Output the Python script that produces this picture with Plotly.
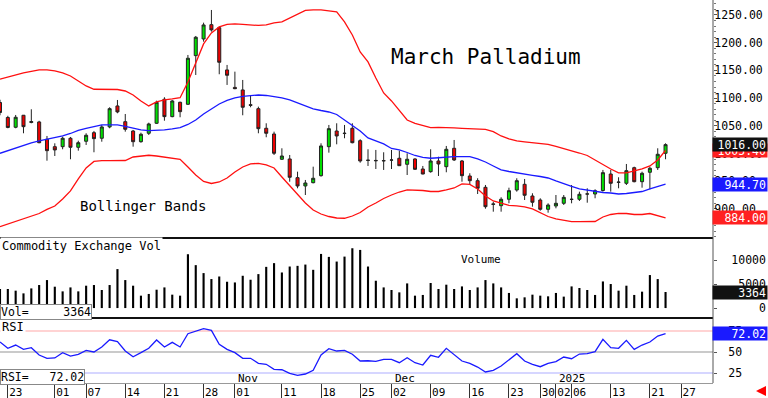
import plotly.graph_objects as go

# ---------------- data ----------------
opens = [1092, 1065, 1047.3, 1069, 1056, 1056.9, 1025.7, 1012.3, 1012.3, 1027.5,
         1011.2, 1022.1, 1037.6, 1027.5, 1047.9, 1085.8, 1057.4, 1040.6, 1021.3, 1036.5,
         1054.5, 1097.9, 1066.5, 1092.4, 1088.8, 1176.6, 1206.7, 1232.5, 1227.1, 1150.8,
         1119.3, 1114.7, 1088, 1080.9, 1045.5, 1035.2, 989.6, 990.1, 956.4, 941.4,
         947.3, 960, 1012.3, 1040.6, 1036, 1045.5, 1023.1, 988, 987.5, 987.2,
         988, 991.4, 980.5, 990.1, 972, 967.2, 986.5, 976.2, 1009.4, 986.5,
         959.4, 950.9, 939, 909, 905.8, 917.4, 934.1, 944.4, 923.3, 916.1,
         899.3, 905.3, 910.1, 917.4, 917.4, 926.8, 926.9, 933.2, 963, 948.5,
         946.2, 974.4, 949.1, 966.1, 974.4, 1000.4]
highs = [1097, 1068, 1069.5, 1069.5, 1079.8, 1059, 1031.6, 1018.4, 1030.4, 1029.8,
         1023.1, 1036.5, 1040.7, 1051.5, 1083.4, 1096.6, 1071.3, 1042.5, 1037.6, 1055.6,
         1095.3, 1101.5, 1096.6, 1093.5, 1177.8, 1212.1, 1236.1, 1259, 1228.9, 1159.8,
         1147.7, 1132.7, 1105.6, 1084.5, 1054.5, 1039.4, 1009.4, 997.3, 967.2, 952.2,
         976.2, 1018.4, 1051.5, 1054.5, 1051.5, 1054.5, 1025.7, 1007.6, 1006.4, 1002.2,
         1006.4, 1005.1, 1000.4, 991.4, 977.5, 1007.6, 994.2, 1013.6, 1024.4, 988.3,
         964.3, 955.3, 943.2, 913, 921, 938.3, 955.3, 954, 928.2, 919.2,
         910.1, 925.1, 925.1, 943.2, 931.1, 937.2, 935.4, 970.3, 970.3, 957.1,
         981.1, 976.2, 967.2, 976.2, 1009.4, 1018.4]
lows = [1069, 1045.5, 1045.5, 1036.5, 1054.5, 1018.5, 987, 995.5, 1007.6, 989.6,
        1005.1, 1015.4, 1002.2, 1021.3, 1045.5, 1072.6, 1039.4, 1012.3, 1019.5, 1033.4,
        1053.3, 1059.2, 1065.4, 1065.4, 1087.6, 1141.7, 1201.8, 1219.9, 1143, 1123.7,
        1116, 1069, 1083.4, 1036.5, 1029.3, 997.3, 988.3, 949.1, 937.2, 925.1,
        946.2, 958.2, 1001.5, 1016.6, 1027.5, 1018.4, 983.4, 977.5, 972, 970.3,
        972, 977.5, 961.2, 970.3, 962.5, 965.4, 959.4, 966.1, 986.5, 949.1,
        943.2, 926.9, 900.4, 895, 895, 910.2, 931.1, 916.1, 904, 896.8,
        893.2, 901.1, 907.1, 910.1, 914.3, 911.2, 919.2, 931.1, 931.1, 937.2,
        943.2, 948, 938.3, 935.4, 970.3, 989.6]
closes = [1074, 1047, 1065.4, 1048.4, 1057.5, 1019.5, 1005.1, 1006.4, 1027.5, 1011.2,
          1019.5, 1032.9, 1026.8, 1047.9, 1080.9, 1075, 1043.7, 1021.3, 1034.7, 1053.3,
          1092.4, 1066.5, 1094.8, 1075.5, 1171.9, 1209.8, 1232, 1223, 1164.6, 1141.2,
          1117, 1083.4, 1087, 1044.8, 1036.5, 1000.4, 995.5, 957.1, 941.4, 946.8,
          955.3, 1013.6, 1044.8, 1031.6, 1036.5, 1019.5, 986.5, 987.6, 987, 986.8,
          988.3, 978, 989.6, 971.5, 963, 986.5, 981.1, 1007.6, 988.3, 960,
          950.9, 937.2, 904, 908.3, 917.4, 932.9, 950.9, 924.6, 912, 899.3,
          907, 910.1, 920.9, 917.2, 926.4, 927, 932.9, 965.4, 946.2, 948,
          969, 949.1, 964.3, 973.3, 998.6, 1016]

upper_band = [1134.0, 1138.1, 1141.7, 1145.3, 1148.0, 1150.8, 1150.8, 1149.0, 1145.3, 1139.9,
              1130.9, 1121.9, 1115.9, 1115.9, 1115.9, 1115.5, 1112.8, 1105.6, 1094.8, 1085.8,
              1093.0, 1096.6, 1098.4, 1100.7, 1129.1, 1165.2, 1197.7, 1217.5, 1228.4, 1232.9,
              1233.8, 1232.9, 1232.0, 1231.1, 1232.0, 1235.6, 1237.4, 1244.6, 1251.8, 1258.1,
              1259.0, 1259.0, 1257.2, 1255.4, 1237.4, 1213.9, 1183.2, 1165.2, 1136.3, 1109.2,
              1094.8, 1078.5, 1060.5, 1054.2, 1049.7, 1046.6, 1047.0, 1047.0, 1046.1, 1045.5,
              1045.2, 1044.3, 1043.4, 1039.4, 1031.6, 1026.2, 1022.6, 1020.8, 1019.5, 1018.4,
              1016.3, 1012.7, 1009.1, 1005.4, 1000.9, 996.4, 988.3, 979.3, 972.1, 964.9,
              964.9, 968.5, 972.1, 977.5, 988.3, 1005.4]
middle_band = [1000.4, 1005.4, 1010.0, 1014.5, 1019.0, 1022.6, 1025.3, 1028.4, 1031.6, 1036.1,
               1041.6, 1045.2, 1048.8, 1051.5, 1051.8, 1051.5, 1048.8, 1045.5, 1042.5, 1041.2,
               1041.6, 1042.5, 1044.3, 1046.6, 1052.4, 1060.5, 1071.3, 1080.3, 1089.4, 1095.7,
               1100.2, 1102.9, 1104.7, 1105.6, 1104.7, 1102.9, 1100.2, 1096.6, 1091.2, 1084.9,
               1080.7, 1077.6, 1074.9, 1070.4, 1060.5, 1051.5, 1040.6, 1028.0, 1022.6, 1017.2,
               1009.1, 1006.4, 1001.8, 996.4, 992.8, 991.4, 992.3, 993.7, 994.3, 994.3,
               994.3, 990.1, 984.7, 977.5, 970.3, 967.5, 964.8, 962.5, 960.7, 958.5,
               955.8, 950.4, 945.0, 940.5, 936.0, 933.6, 932.4, 929.6, 928.7, 926.9,
               927.8, 929.6, 931.4, 936.0, 940.1, 944.7]
lower_band = [867.9, 872.8, 877.3, 881.8, 886.3, 891.7, 899.0, 905.3, 917.9, 932.4,
              954.0, 973.9, 985.6, 987.0, 987.0, 987.0, 987.4, 993.7, 995.5, 996.8,
              995.5, 993.7, 991.9, 989.6, 975.7, 961.2, 949.5, 945.9, 948.6, 955.8,
              966.6, 975.7, 981.1, 982.3, 979.3, 973.9, 957.6, 941.4, 925.1, 910.7,
              898.1, 890.8, 886.3, 883.6, 883.1, 887.2, 893.5, 903.5, 910.7, 918.8,
              925.1, 930.5, 934.2, 934.2, 933.2, 931.4, 931.4, 934.2, 937.8, 945.0,
              944.1, 936.0, 923.3, 914.3, 909.8, 906.2, 905.3, 903.5, 899.9, 892.6,
              886.3, 881.8, 879.1, 876.9, 876.9, 876.9, 877.3, 885.4, 889.9, 892.1,
              891.7, 889.9, 889.9, 891.7, 888.1, 884.0]

volume = [4000, 4000, 3650, 3080, 4120, 4830, 5870, 4480, 3500, 4330,
          3500, 4690, 4830, 3790, 4830, 8170, 5870, 4690, 2600, 2960,
          3850, 4330, 2810, 2600, 11290, 9000, 7330, 6080, 6620, 5520,
          5370, 6770, 5940, 7120, 8640, 9420, 7460, 8710, 8850, 9120,
          8020, 11350, 10730, 9750, 10790, 12540, 12190, 8710, 5730, 4330,
          3790, 3290, 5170, 2600, 2750, 5250, 4000, 4900, 4000, 4540,
          3790, 4330, 5870, 5170, 4330, 3170, 2040, 2250, 2810, 2600,
          2460, 3170, 2400, 4540, 4210, 3790, 2750, 5580, 5040, 3650,
          4690, 2750, 3440, 6920, 6080, 3364]

rsi = [61.9, 54.4, 58.3, 53.2, 55.1, 46.4, 42.5, 42.9, 49.2, 45.2,
       47.3, 52.0, 50.0, 56.0, 64.6, 62.3, 51.2, 44.4, 49.2, 54.4,
       64.3, 56.0, 61.5, 56.0, 71.8, 75.0, 77.8, 75.8, 59.2, 53.2,
       49.2, 42.5, 42.5, 36.5, 35.4, 29.4, 28.9, 24.6, 22.3, 23.8,
       28.2, 46.4, 53.9, 51.2, 52.0, 47.3, 39.3, 39.6, 38.9, 41.3,
       41.3, 37.3, 43.2, 37.3, 34.5, 46.1, 43.7, 54.4, 47.3, 39.3,
       36.5, 32.1, 26.2, 28.2, 33.3, 40.5, 48.0, 39.3, 35.4, 32.5,
       36.5, 38.5, 44.0, 42.0, 47.6, 48.0, 50.4, 65.1, 55.1, 54.4,
       63.9, 53.2, 58.3, 61.9, 69.0, 72.02]

# trading-day index of each date label and its text
tick_idx = [1, 7, 11, 16, 21, 26, 30, 36, 41, 46, 50, 55, 60, 65, 69, 71, 73, 78, 83, 87]
tick_txt = ["23", "01", "07", "14", "21", "28", "01", "11", "18", "25",
            "02", "09", "16", "23", "30", "02", "06", "13", "21", "27"]
month_idx = [30, 50, 71]
month_txt = ["Nov", "Dec", "2025"]

price_ticks = [900, 950, 1000, 1050, 1100, 1150, 1200, 1250]
vol_ticks = [0, 5000, 10000]
rsi_ticks = [25, 50, 75]

last_upper, last_mid, last_lower = upper_band[-1], middle_band[-1], lower_band[-1]

# ---------------- figure ----------------
MONO = "DejaVu Sans Mono"
W, H = 768, 398
XR = 713 / W            # right edge of the plot area (paper fraction)
n = len(closes)
idx = list(range(n))

fig = go.Figure()
fig.add_trace(go.Scatter(x=idx, y=upper_band, mode="lines", yaxis="y",
                         line=dict(color="#ff1010", width=1.3), hoverinfo="skip"))
fig.add_trace(go.Scatter(x=idx, y=lower_band, mode="lines", yaxis="y",
                         line=dict(color="#ff1010", width=1.3), hoverinfo="skip"))
fig.add_trace(go.Scatter(x=idx, y=middle_band, mode="lines", yaxis="y",
                         line=dict(color="#1a1aff", width=1.3), hoverinfo="skip"))
fig.add_trace(go.Candlestick(
    x=idx, open=opens, high=highs, low=lows, close=closes, yaxis="y",
    whiskerwidth=0,
    increasing=dict(fillcolor="#00e000", line=dict(color="#222222", width=1)),
    decreasing=dict(fillcolor="#ee0000", line=dict(color="#222222", width=1)),
    hoverinfo="skip"))
fig.add_trace(go.Bar(x=idx, y=volume, yaxis="y2", width=0.27,
                     marker=dict(color="#000000", line=dict(width=0)), hoverinfo="skip"))
fig.add_trace(go.Scatter(x=idx, y=rsi, mode="lines", yaxis="y3",
                         line=dict(color="#1a1aff", width=1.3), hoverinfo="skip"))

y_price = [1 - 238 / H, 1]
y_vol = [1 - 318 / H, 1 - 238 / H]
y_rsi = [1 - 383 / H, 1 - 318 / H]

nb = "\u00a0"
fig.update_layout(
    width=W, height=H, margin=dict(l=0, r=0, t=0, b=0),
    paper_bgcolor="white", plot_bgcolor="white",
    showlegend=False, hovermode=False, boxgap=0.45,
    font=dict(family=MONO, size=12, color="black"),
    xaxis=dict(domain=[0, XR], range=[0, 713 / 7.83], anchor="y3",
               rangeslider=dict(visible=False), showgrid=False, zeroline=False,
               tickmode="array", tickvals=tick_idx, ticktext=tick_txt,
               ticks="outside", ticklen=15, tickcolor="#333333", tickwidth=1,
               ticklabelshift=8, ticklabelstandoff=-16,
               tickfont=dict(family=MONO, size=11, color="black"),
               showline=True, linecolor="#999999", linewidth=1),
    yaxis=dict(domain=y_price, range=[847.5, 1277], side="right", anchor="x",
               showgrid=False, zeroline=False, automargin=False,
               tickmode="array", tickvals=price_ticks,
               ticktext=[f"{v:.2f}" for v in price_ticks],
               ticks="outside", ticklen=3, tickcolor="#555555",
               ticklabelstandoff=-5,
               minor=dict(dtick=10, tick0=0, ticks="outside", ticklen=2, tickcolor="#777777"),
               tickfont=dict(family=MONO, size=11.5, color="black")),
    yaxis2=dict(domain=y_vol, range=[-2083, 14690], side="right", anchor="x",
                showgrid=False, zeroline=False, automargin=False,
                tickmode="array", tickvals=vol_ticks,
                ticktext=[str(v).rjust(5, nb) for v in vol_ticks],
                ticks="outside", ticklen=3, tickcolor="#555555",
                ticklabelstandoff=12,
                tickfont=dict(family=MONO, size=11.5, color="black")),
    yaxis3=dict(domain=y_rsi, range=[13.1, 90.5], side="right", anchor="x",
                showgrid=False, zeroline=False, automargin=False,
                tickmode="array", tickvals=rsi_ticks, ticktext=[str(v) for v in rsi_ticks],
                ticks="outside", ticklen=3, tickcolor="#555555",
                ticklabelstandoff=9,
                tickfont=dict(family=MONO, size=11.5, color="black")),
)

shapes = []
# RSI reference lines
for val, col in zip(rsi_ticks, ["#c8c8ff", "#b8b8b8", "#ffc4c4"]):
    shapes.append(dict(type="line", xref="paper", yref="y3", x0=0, x1=XR, y0=val, y1=val,
                       line=dict(color=col, width=1.5), layer="below"))
# panel separators and right axis line
for yy in [y_vol[1], y_rsi[1]]:
    shapes.append(dict(type="line", xref="paper", yref="paper", x0=0, x1=XR, y0=yy, y1=yy,
                       line=dict(color="#111111", width=2)))
shapes.append(dict(type="line", xref="paper", yref="paper", x0=XR, x1=XR, y0=y_rsi[0], y1=1,
                   line=dict(color="#555555", width=1)))
fig.update_layout(shapes=shapes)

ann = []
def add_text(text, xpx, ypx, size, anchor="left", **kw):
    ann.append(dict(text=text, xref="paper", yref="paper", x=xpx / W, y=1 - ypx / H,
                    xanchor=anchor, yanchor="middle", showarrow=False,
                    font=dict(family=MONO, size=size, color="black"), **kw))

add_text("March Palladium", 389, 57, 21)
add_text("Bollinger Bands", 78, 206, 14)
add_text("Commodity Exchange Vol", 0, 246, 12, bgcolor="white")
add_text("Volume", 459, 259, 11)
add_text("RSI", 0, 327, 12, bgcolor="white")
add_text(f"Vol={nb*5}{volume[-1]}", 0, 311.5, 11.5, bgcolor="white",
         bordercolor="#888888", borderwidth=1, borderpad=0)
add_text(f"RSI={nb*3}{rsi[-1]:.2f}", 0, 377, 11.5, bgcolor="white",
         bordercolor="#888888", borderwidth=1, borderpad=0)

for t, i in zip(month_txt, month_idx):
    ann.append(dict(text=t, xref="x", yref="paper", x=i, y=1 - 378 / H, xanchor="left",
                    xshift=1, yanchor="middle", showarrow=False,
                    font=dict(family=MONO, size=11, color="black")))

def value_box(text, yref, yval, bg):
    ann.append(dict(text=text, xref="paper", yref=yref, x=1, y=yval, xanchor="right",
                    yanchor="middle", showarrow=False, align="right", width=52, height=11,
                    bgcolor=bg, borderpad=1,
                    font=dict(family=MONO, size=11.5, color="white")))

value_box(f"{last_upper:.2f}", "y", last_upper, "#ff2020")
value_box(f"{closes[-1]:.2f}", "y", closes[-1], "#111111")
value_box(f"{last_mid:.2f}", "y", last_mid, "#1a1aff")
value_box(f"{last_lower:.2f}", "y", last_lower, "#ff2020")
value_box(f"{volume[-1]}", "y2", volume[-1], "#111111")
value_box(f"{rsi[-1]:.2f}", "y3", rsi[-1], "#1a1aff")

ann.append(dict(text="", xref="paper", yref="paper", x=756 / W, y=1 - 391 / H,
                showarrow=True, ax=10, ay=0, arrowhead=2, arrowsize=0.8, arrowwidth=2.5,
                arrowcolor="#ff0000"))
fig.update_layout(annotations=ann)

fig.write_html("out.html", config={"displayModeBar": False},
               post_script="document.body.style.margin='0';")
